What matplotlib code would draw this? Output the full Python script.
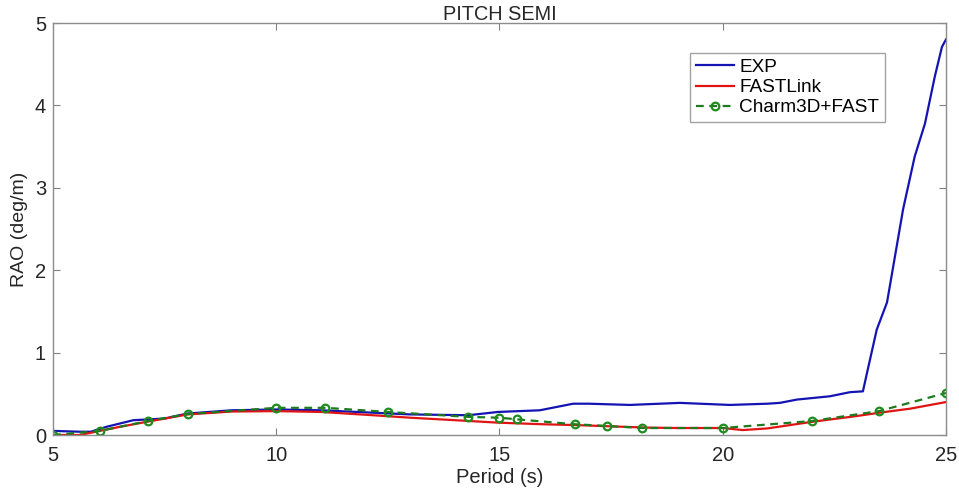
import matplotlib
matplotlib.use("Agg")
import matplotlib.pyplot as plt

plt.rcParams['font.family'] = ['Liberation Sans', 'DejaVu Sans']

exp_x = [5.0, 5.6, 5.85, 6.2, 6.8, 7.17, 7.5, 8.0, 9.0, 10.0, 11.0, 12.2, 13.0, 14.3, 14.97,
         15.9, 16.65, 17.0, 17.92, 19.04, 20.16, 21.0, 21.28, 21.66, 22.4, 22.85, 23.14,
         23.23, 23.45, 23.68, 24.04, 24.3, 24.53, 24.75, 24.91, 25.0]
exp_y = [0.05, 0.04, 0.04, 0.10, 0.18, 0.19, 0.20, 0.26, 0.30, 0.31, 0.30, 0.27, 0.25, 0.24, 0.28,
         0.30, 0.38, 0.38, 0.365, 0.39, 0.365, 0.38, 0.39, 0.43, 0.47, 0.52, 0.53,
         0.75, 1.28, 1.61, 2.74, 3.38, 3.78, 4.35, 4.71, 4.80]

fast_x = [5.0, 5.6, 6.05, 6.5, 7.1, 8.02, 9.0, 10.0, 11.0, 12.17, 13.0, 14.0, 14.97, 16.0,
          16.74, 17.5, 18.3, 19.0, 20.0, 20.45, 21.0, 22.0, 23.0, 23.5, 24.2, 25.0]
fast_y = [0.0, 0.0, 0.05, 0.10, 0.16, 0.25, 0.285, 0.29, 0.28, 0.24, 0.21, 0.18, 0.15, 0.13,
          0.12, 0.105, 0.09, 0.085, 0.085, 0.06, 0.08, 0.16, 0.23, 0.27, 0.32, 0.40]

charm_x = [5.0, 6.05, 7.13, 8.02, 10.0, 11.1, 12.5, 14.3, 15.0, 15.4, 16.7, 17.4, 18.2,
           20.0, 22.0, 23.5, 25.0]
charm_y = [0.0, 0.05, 0.17, 0.255, 0.33, 0.33, 0.28, 0.22, 0.21, 0.19, 0.13, 0.11, 0.085,
           0.085, 0.17, 0.29, 0.51]

x_ticks = [5, 10, 15, 20, 25]
y_ticks = [0, 1, 2, 3, 4, 5]

fig = plt.figure(figsize=(9.59, 4.94), dpi=100)
ax = fig.add_axes([0.0553, 0.1194, 0.9311, 0.834])

ax.plot(exp_x, exp_y, color='#1414b4', lw=1.6, label='EXP')
ax.plot(fast_x, fast_y, color='#e01414', lw=1.6, label='FASTLink')
ax.plot(charm_x, charm_y, color='#1e7a1e', lw=1.6, ls=(0, (3.5, 2.5)), marker='o',
        markersize=5.5, markerfacecolor='none', markeredgecolor='#1e8c1e', markeredgewidth=1.6,
        label='Charm3D+FAST')

ax.set_xlim(5, 25)
ax.set_ylim(0, 5)
ax.set_xticks(x_ticks)
ax.set_yticks(y_ticks)
ax.tick_params(direction='in', length=5, top=True, right=True, labelsize=14.5,
               color='#808080', labelcolor='#262626')
ax.tick_params(axis='x', pad=8)
ax.tick_params(axis='y', pad=5)
for s in ax.spines.values():
    s.set_color('#8c8c8c')
    s.set_linewidth(1.0)

ax.set_title('PITCH SEMI', fontsize=14.3, color='#262626', pad=2)
ax.set_xlabel('Period (s)', fontsize=14.5, color='#262626', labelpad=2)
ax.set_ylabel('RAO (deg/m)', fontsize=14, color='#262626', labelpad=5)

leg = ax.legend(loc='upper right', bbox_to_anchor=(0.9317, 0.927), fontsize=13.7,
                frameon=True, fancybox=False, handlelength=2.0, handletextpad=0.3,
                borderpad=0.3, labelspacing=0.15, borderaxespad=0.0)
leg.get_frame().set_edgecolor('#8c8c8c')
leg.get_frame().set_linewidth(1.0)

fig.savefig('out.png', dpi=100)
